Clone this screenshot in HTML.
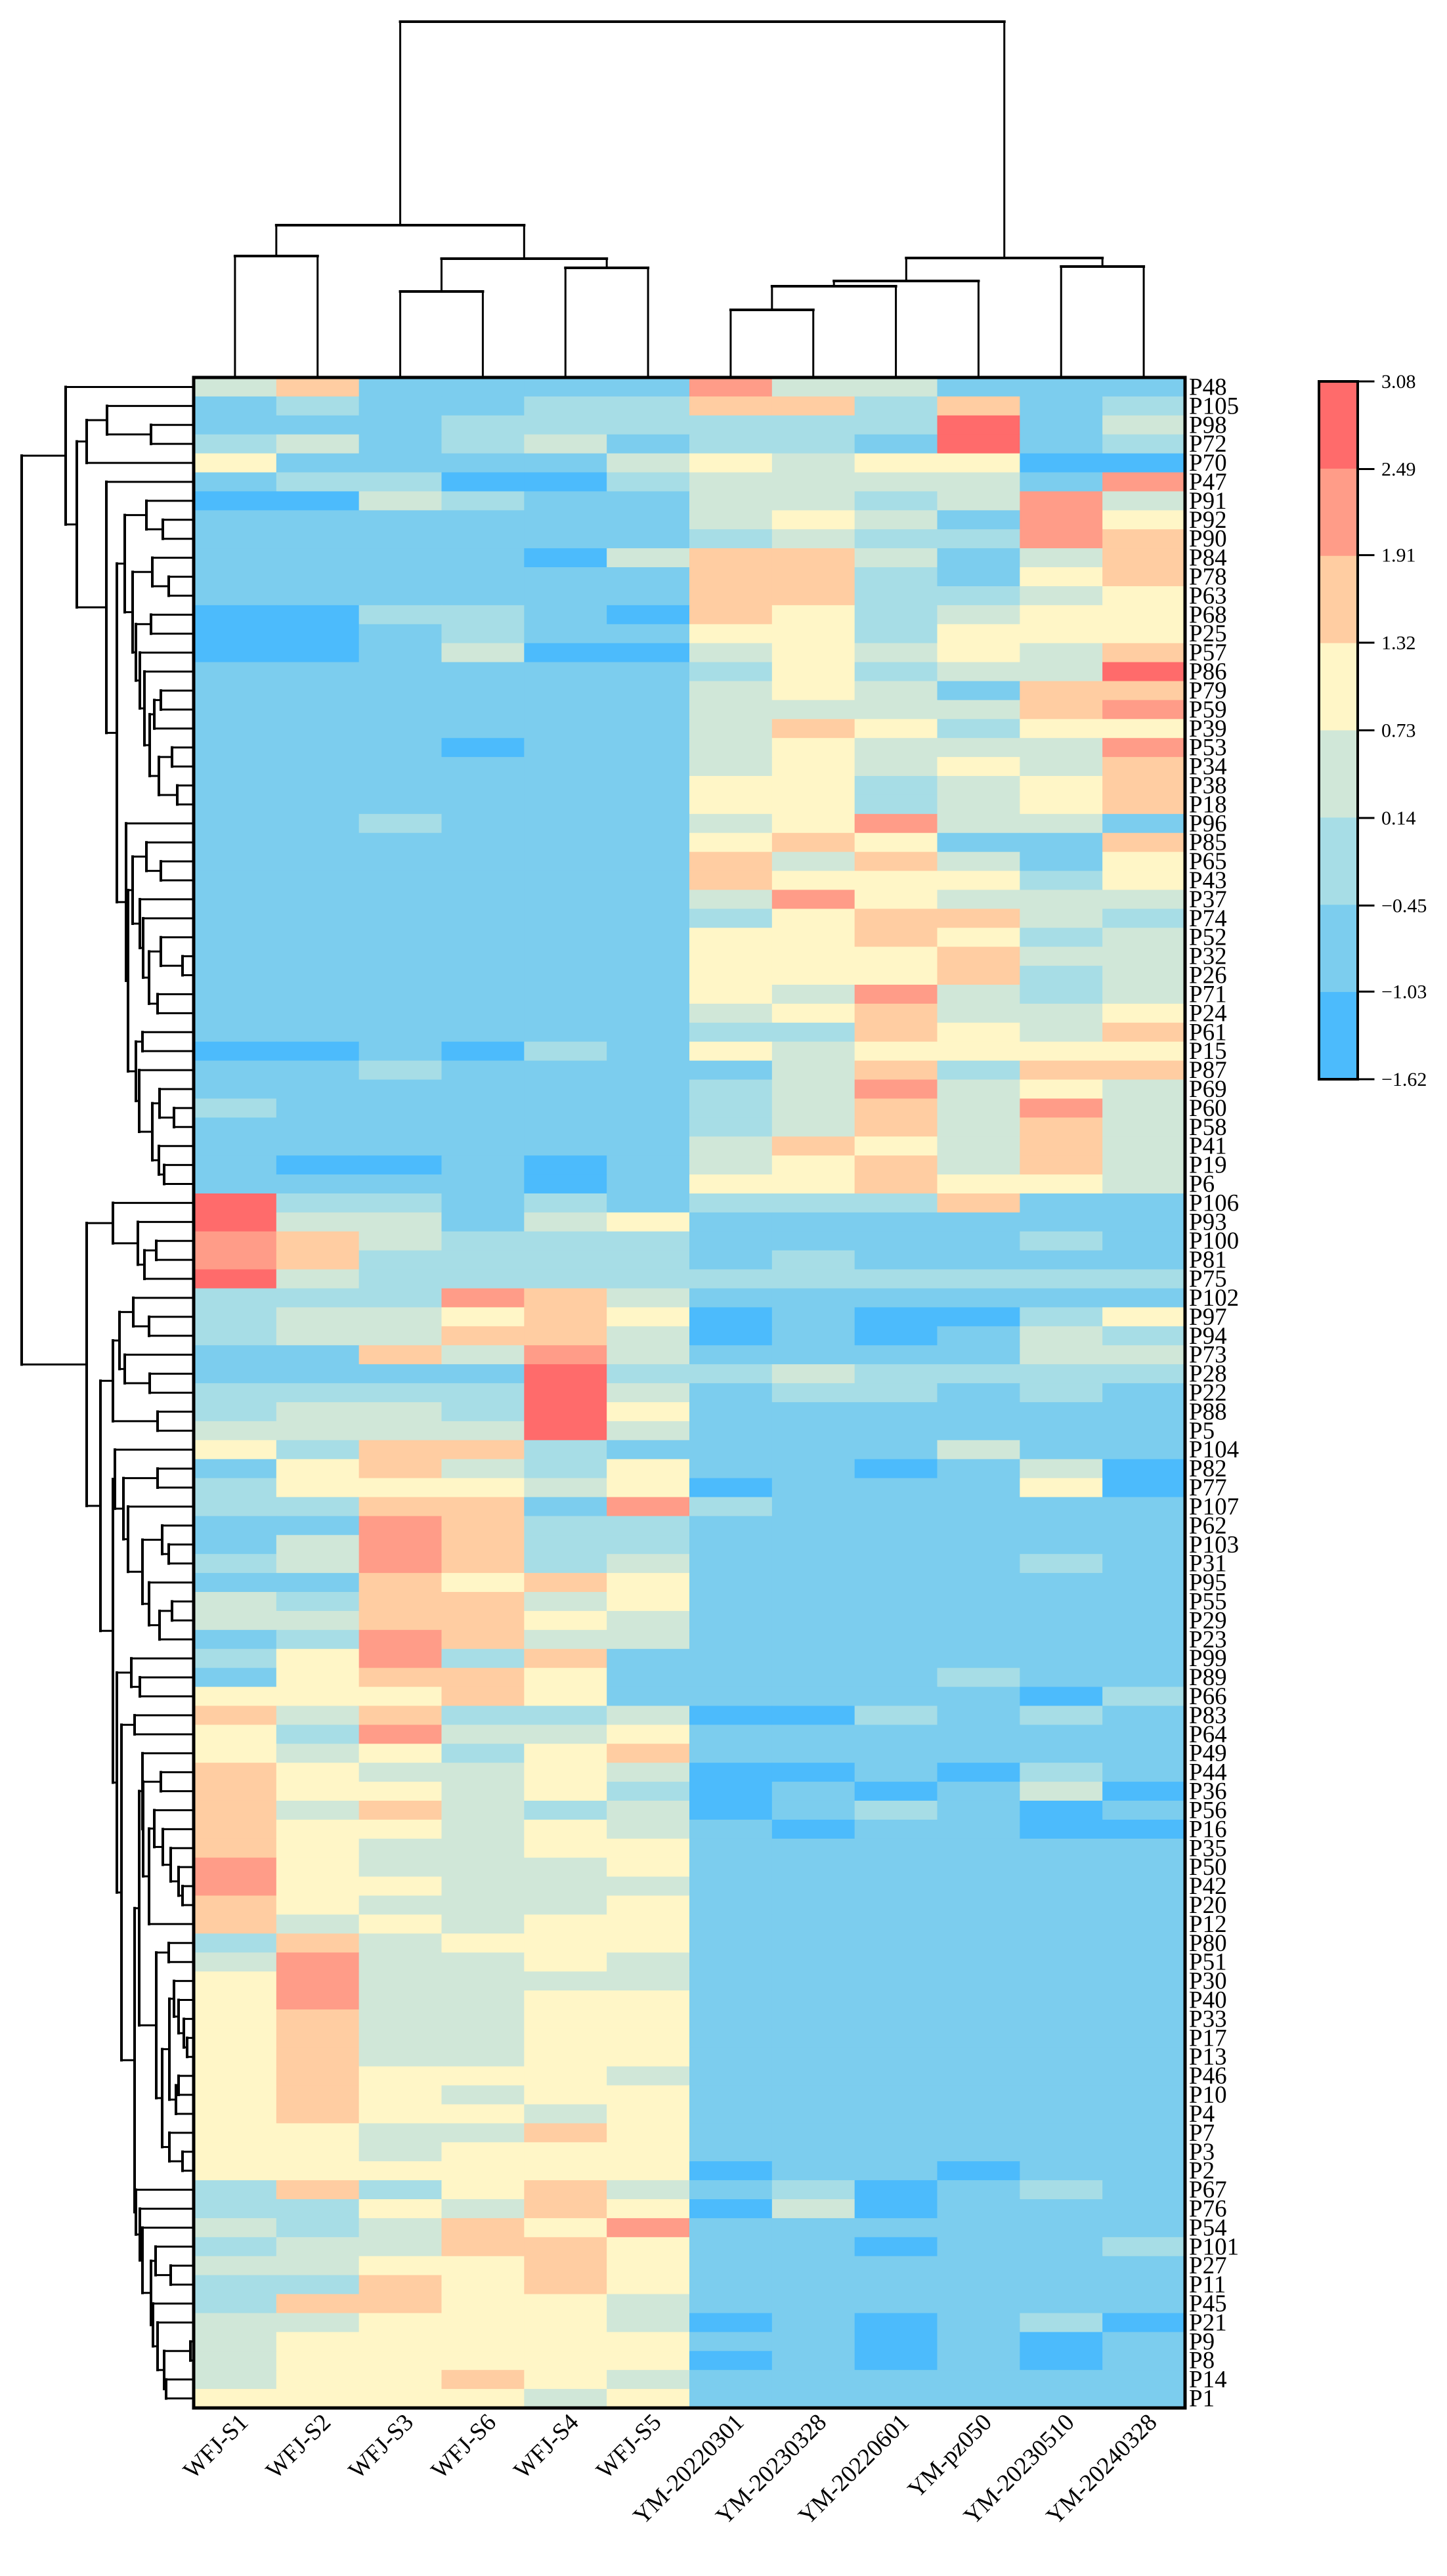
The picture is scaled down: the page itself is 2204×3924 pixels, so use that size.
<!DOCTYPE html>
<html><head><meta charset="utf-8"><style>
html,body{margin:0;padding:0;background:#fff;}
svg{display:block;}
text{font-family:"Liberation Serif",serif;fill:#000;}
</style></head>
<body>
<svg id="chart" width="2204" height="3924" viewBox="0 0 2204 3924" xmlns="http://www.w3.org/2000/svg">
<g id="col-dendro"></g>
<g id="row-dendro"></g>
<g id="cells"></g>
<rect x="295" y="575" width="1510" height="3093" fill="none" stroke="#000" stroke-width="5"/>
<g id="row-labels"></g>
<g id="col-labels"></g>
<g id="legend"></g>
</svg>
<script>
const columns = ["WFJ-S1","WFJ-S2","WFJ-S3","WFJ-S6","WFJ-S4","WFJ-S5","YM-20220301","YM-20230328","YM-20220601","YM-pz050","YM-20230510","YM-20240328"];
const rowsLabels = ["P48","P105","P98","P72","P70","P47","P91","P92","P90","P84","P78","P63","P68","P25","P57","P86","P79","P59","P39","P53","P34","P38","P18","P96","P85","P65","P43","P37","P74","P52","P32","P26","P71","P24","P61","P15","P87","P69","P60","P58","P41","P19","P6","P106","P93","P100","P81","P75","P102","P97","P94","P73","P28","P22","P88","P5","P104","P82","P77","P107","P62","P103","P31","P95","P55","P29","P23","P99","P89","P66","P83","P64","P49","P44","P36","P56","P16","P35","P50","P42","P20","P12","P80","P51","P30","P40","P33","P17","P13","P46","P10","P4","P7","P3","P2","P67","P76","P54","P101","P27","P11","P45","P21","P9","P8","P14","P1"];
const legendTicks = [3.08,2.49,1.91,1.32,0.73,0.14,-0.45,-1.03,-1.62];
const legendColors = ["#FF6B6B","#FF9C88","#FFCDA2","#FFF6C7","#D0E7D8","#A7DDE6","#7CCDEE","#4CBBFC"];
// cell values (z-scores, estimated per cell)
const values = [
[0.4,1.6,-0.7,-0.7,-0.7,-0.7,2.2,0.4,0.4,-0.7,-0.7,-0.7],
[-0.7,-0.2,-0.7,-0.7,-0.2,-0.2,1.6,1.6,-0.2,1.6,-0.7,-0.2],
[-0.7,-0.7,-0.7,-0.2,-0.2,-0.2,-0.2,-0.2,-0.2,2.8,-0.7,0.4],
[-0.2,0.4,-0.7,-0.2,0.4,-0.7,-0.2,-0.2,-0.7,2.8,-0.7,-0.2],
[1.0,-0.7,-0.7,-0.7,-0.7,0.4,1.0,0.4,1.0,1.0,-1.3,-1.3],
[-0.7,-0.2,-0.2,-1.3,-1.3,-0.2,0.4,0.4,0.4,0.4,-0.7,2.2],
[-1.3,-1.3,0.4,-0.2,-0.7,-0.7,0.4,0.4,-0.2,0.4,2.2,0.4],
[-0.7,-0.7,-0.7,-0.7,-0.7,-0.7,0.4,1.0,0.4,-0.7,2.2,1.0],
[-0.7,-0.7,-0.7,-0.7,-0.7,-0.7,-0.2,0.4,-0.2,-0.2,2.2,1.6],
[-0.7,-0.7,-0.7,-0.7,-1.3,0.4,1.6,1.6,0.4,-0.7,0.4,1.6],
[-0.7,-0.7,-0.7,-0.7,-0.7,-0.7,1.6,1.6,-0.2,-0.7,1.0,1.6],
[-0.7,-0.7,-0.7,-0.7,-0.7,-0.7,1.6,1.6,-0.2,-0.2,0.4,1.0],
[-1.3,-1.3,-0.2,-0.2,-0.7,-1.3,1.6,1.0,-0.2,0.4,1.0,1.0],
[-1.3,-1.3,-0.7,-0.2,-0.7,-0.7,1.0,1.0,-0.2,1.0,1.0,1.0],
[-1.3,-1.3,-0.7,0.4,-1.3,-1.3,0.4,1.0,0.4,1.0,0.4,1.6],
[-0.7,-0.7,-0.7,-0.7,-0.7,-0.7,-0.2,1.0,-0.2,0.4,0.4,2.8],
[-0.7,-0.7,-0.7,-0.7,-0.7,-0.7,0.4,1.0,0.4,-0.7,1.6,1.6],
[-0.7,-0.7,-0.7,-0.7,-0.7,-0.7,0.4,0.4,0.4,0.4,1.6,2.2],
[-0.7,-0.7,-0.7,-0.7,-0.7,-0.7,0.4,1.6,1.0,-0.2,1.0,1.0],
[-0.7,-0.7,-0.7,-1.3,-0.7,-0.7,0.4,1.0,0.4,0.4,0.4,2.2],
[-0.7,-0.7,-0.7,-0.7,-0.7,-0.7,0.4,1.0,0.4,1.0,0.4,1.6],
[-0.7,-0.7,-0.7,-0.7,-0.7,-0.7,1.0,1.0,-0.2,0.4,1.0,1.6],
[-0.7,-0.7,-0.7,-0.7,-0.7,-0.7,1.0,1.0,-0.2,0.4,1.0,1.6],
[-0.7,-0.7,-0.2,-0.7,-0.7,-0.7,0.4,1.0,2.2,0.4,0.4,-0.7],
[-0.7,-0.7,-0.7,-0.7,-0.7,-0.7,1.0,1.6,1.0,-0.7,-0.7,1.6],
[-0.7,-0.7,-0.7,-0.7,-0.7,-0.7,1.6,0.4,1.6,0.4,-0.7,1.0],
[-0.7,-0.7,-0.7,-0.7,-0.7,-0.7,1.6,1.0,1.0,1.0,-0.2,1.0],
[-0.7,-0.7,-0.7,-0.7,-0.7,-0.7,0.4,2.2,1.0,0.4,0.4,0.4],
[-0.7,-0.7,-0.7,-0.7,-0.7,-0.7,-0.2,1.0,1.6,1.6,0.4,-0.2],
[-0.7,-0.7,-0.7,-0.7,-0.7,-0.7,1.0,1.0,1.6,1.0,-0.2,0.4],
[-0.7,-0.7,-0.7,-0.7,-0.7,-0.7,1.0,1.0,1.0,1.6,0.4,0.4],
[-0.7,-0.7,-0.7,-0.7,-0.7,-0.7,1.0,1.0,1.0,1.6,-0.2,0.4],
[-0.7,-0.7,-0.7,-0.7,-0.7,-0.7,1.0,0.4,2.2,0.4,-0.2,0.4],
[-0.7,-0.7,-0.7,-0.7,-0.7,-0.7,0.4,1.0,1.6,0.4,0.4,1.0],
[-0.7,-0.7,-0.7,-0.7,-0.7,-0.7,-0.2,-0.2,1.6,1.0,0.4,1.6],
[-1.3,-1.3,-0.7,-1.3,-0.2,-0.7,1.0,0.4,1.0,1.0,1.0,1.0],
[-0.7,-0.7,-0.2,-0.7,-0.7,-0.7,-0.7,0.4,1.6,-0.2,1.6,1.6],
[-0.7,-0.7,-0.7,-0.7,-0.7,-0.7,-0.2,0.4,2.2,0.4,1.0,0.4],
[-0.2,-0.7,-0.7,-0.7,-0.7,-0.7,-0.2,0.4,1.6,0.4,2.2,0.4],
[-0.7,-0.7,-0.7,-0.7,-0.7,-0.7,-0.2,0.4,1.6,0.4,1.6,0.4],
[-0.7,-0.7,-0.7,-0.7,-0.7,-0.7,0.4,1.6,1.0,0.4,1.6,0.4],
[-0.7,-1.3,-1.3,-0.7,-1.3,-0.7,0.4,1.0,1.6,0.4,1.6,0.4],
[-0.7,-0.7,-0.7,-0.7,-1.3,-0.7,1.0,1.0,1.6,1.0,1.0,0.4],
[2.8,-0.2,-0.2,-0.7,-0.2,-0.7,-0.2,-0.2,-0.2,1.6,-0.7,-0.7],
[2.8,0.4,0.4,-0.7,0.4,1.0,-0.7,-0.7,-0.7,-0.7,-0.7,-0.7],
[2.2,1.6,0.4,-0.2,-0.2,-0.2,-0.7,-0.7,-0.7,-0.7,-0.2,-0.7],
[2.2,1.6,-0.2,-0.2,-0.2,-0.2,-0.7,-0.2,-0.7,-0.7,-0.7,-0.7],
[2.8,0.4,-0.2,-0.2,-0.2,-0.2,-0.2,-0.2,-0.2,-0.2,-0.2,-0.2],
[-0.2,-0.2,-0.2,2.2,1.6,0.4,-0.7,-0.7,-0.7,-0.7,-0.7,-0.7],
[-0.2,0.4,0.4,1.0,1.6,1.0,-1.3,-0.7,-1.3,-1.3,-0.2,1.0],
[-0.2,0.4,0.4,1.6,1.6,0.4,-1.3,-0.7,-1.3,-0.7,0.4,-0.2],
[-0.7,-0.7,1.6,0.4,2.2,0.4,-0.7,-0.7,-0.7,-0.7,0.4,0.4],
[-0.7,-0.7,-0.7,-0.7,2.8,-0.2,-0.2,0.4,-0.2,-0.2,-0.2,-0.2],
[-0.2,-0.2,-0.2,-0.2,2.8,0.4,-0.7,-0.2,-0.2,-0.7,-0.2,-0.7],
[-0.2,0.4,0.4,-0.2,2.8,1.0,-0.7,-0.7,-0.7,-0.7,-0.7,-0.7],
[0.4,0.4,0.4,0.4,2.8,0.4,-0.7,-0.7,-0.7,-0.7,-0.7,-0.7],
[1.0,-0.2,1.6,1.6,-0.2,-0.7,-0.7,-0.7,-0.7,0.4,-0.7,-0.7],
[-0.7,1.0,1.6,0.4,-0.2,1.0,-0.7,-0.7,-1.3,-0.7,0.4,-1.3],
[-0.2,1.0,1.0,1.0,0.4,1.0,-1.3,-0.7,-0.7,-0.7,1.0,-1.3],
[-0.2,-0.2,1.6,1.6,-0.7,2.2,-0.2,-0.7,-0.7,-0.7,-0.7,-0.7],
[-0.7,-0.7,2.2,1.6,-0.2,-0.2,-0.7,-0.7,-0.7,-0.7,-0.7,-0.7],
[-0.7,0.4,2.2,1.6,-0.2,-0.2,-0.7,-0.7,-0.7,-0.7,-0.7,-0.7],
[-0.2,0.4,2.2,1.6,-0.2,0.4,-0.7,-0.7,-0.7,-0.7,-0.2,-0.7],
[-0.7,-0.7,1.6,1.0,1.6,1.0,-0.7,-0.7,-0.7,-0.7,-0.7,-0.7],
[0.4,-0.2,1.6,1.6,0.4,1.0,-0.7,-0.7,-0.7,-0.7,-0.7,-0.7],
[0.4,0.4,1.6,1.6,1.0,0.4,-0.7,-0.7,-0.7,-0.7,-0.7,-0.7],
[-0.7,-0.2,2.2,1.6,0.4,0.4,-0.7,-0.7,-0.7,-0.7,-0.7,-0.7],
[-0.2,1.0,2.2,-0.2,1.6,-0.7,-0.7,-0.7,-0.7,-0.7,-0.7,-0.7],
[-0.7,1.0,1.6,1.6,1.0,-0.7,-0.7,-0.7,-0.7,-0.2,-0.7,-0.7],
[1.0,1.0,1.0,1.6,1.0,-0.7,-0.7,-0.7,-0.7,-0.7,-1.3,-0.2],
[1.6,0.4,1.6,-0.2,-0.2,0.4,-1.3,-1.3,-0.2,-0.7,-0.2,-0.7],
[1.0,-0.2,2.2,0.4,0.4,1.0,-0.7,-0.7,-0.7,-0.7,-0.7,-0.7],
[1.0,0.4,1.0,-0.2,1.0,1.6,-0.7,-0.7,-0.7,-0.7,-0.7,-0.7],
[1.6,1.0,0.4,0.4,1.0,0.4,-1.3,-1.3,-0.7,-1.3,-0.2,-0.7],
[1.6,1.0,1.0,0.4,1.0,-0.2,-1.3,-0.7,-1.3,-0.7,0.4,-1.3],
[1.6,0.4,1.6,0.4,-0.2,0.4,-1.3,-0.7,-0.2,-0.7,-1.3,-0.7],
[1.6,1.0,1.0,0.4,1.0,0.4,-0.7,-1.3,-0.7,-0.7,-1.3,-1.3],
[1.6,1.0,0.4,0.4,1.0,1.0,-0.7,-0.7,-0.7,-0.7,-0.7,-0.7],
[2.2,1.0,0.4,0.4,0.4,1.0,-0.7,-0.7,-0.7,-0.7,-0.7,-0.7],
[2.2,1.0,1.0,0.4,0.4,0.4,-0.7,-0.7,-0.7,-0.7,-0.7,-0.7],
[1.6,1.0,0.4,0.4,0.4,1.0,-0.7,-0.7,-0.7,-0.7,-0.7,-0.7],
[1.6,0.4,1.0,0.4,1.0,1.0,-0.7,-0.7,-0.7,-0.7,-0.7,-0.7],
[-0.2,1.6,0.4,1.0,1.0,1.0,-0.7,-0.7,-0.7,-0.7,-0.7,-0.7],
[0.4,2.2,0.4,0.4,1.0,0.4,-0.7,-0.7,-0.7,-0.7,-0.7,-0.7],
[1.0,2.2,0.4,0.4,0.4,0.4,-0.7,-0.7,-0.7,-0.7,-0.7,-0.7],
[1.0,2.2,0.4,0.4,1.0,1.0,-0.7,-0.7,-0.7,-0.7,-0.7,-0.7],
[1.0,1.6,0.4,0.4,1.0,1.0,-0.7,-0.7,-0.7,-0.7,-0.7,-0.7],
[1.0,1.6,0.4,0.4,1.0,1.0,-0.7,-0.7,-0.7,-0.7,-0.7,-0.7],
[1.0,1.6,0.4,0.4,1.0,1.0,-0.7,-0.7,-0.7,-0.7,-0.7,-0.7],
[1.0,1.6,1.0,1.0,1.0,0.4,-0.7,-0.7,-0.7,-0.7,-0.7,-0.7],
[1.0,1.6,1.0,0.4,1.0,1.0,-0.7,-0.7,-0.7,-0.7,-0.7,-0.7],
[1.0,1.6,1.0,1.0,0.4,1.0,-0.7,-0.7,-0.7,-0.7,-0.7,-0.7],
[1.0,1.0,0.4,0.4,1.6,1.0,-0.7,-0.7,-0.7,-0.7,-0.7,-0.7],
[1.0,1.0,0.4,1.0,1.0,1.0,-0.7,-0.7,-0.7,-0.7,-0.7,-0.7],
[1.0,1.0,1.0,1.0,1.0,1.0,-1.3,-0.7,-0.7,-1.3,-0.7,-0.7],
[-0.2,1.6,-0.2,1.0,1.6,0.4,-0.7,-0.2,-1.3,-0.7,-0.2,-0.7],
[-0.2,-0.2,1.0,0.4,1.6,1.0,-1.3,0.4,-1.3,-0.7,-0.7,-0.7],
[0.4,-0.2,0.4,1.6,1.0,2.2,-0.7,-0.7,-0.7,-0.7,-0.7,-0.7],
[-0.2,0.4,0.4,1.6,1.6,1.0,-0.7,-0.7,-1.3,-0.7,-0.7,-0.2],
[0.4,0.4,1.0,1.0,1.6,1.0,-0.7,-0.7,-0.7,-0.7,-0.7,-0.7],
[-0.2,-0.2,1.6,1.0,1.6,1.0,-0.7,-0.7,-0.7,-0.7,-0.7,-0.7],
[-0.2,1.6,1.6,1.0,1.0,0.4,-0.7,-0.7,-0.7,-0.7,-0.7,-0.7],
[0.4,0.4,1.0,1.0,1.0,0.4,-1.3,-0.7,-1.3,-0.7,-0.2,-1.3],
[0.4,1.0,1.0,1.0,1.0,1.0,-0.7,-0.7,-1.3,-0.7,-1.3,-0.7],
[0.4,1.0,1.0,1.0,1.0,1.0,-1.3,-0.7,-1.3,-0.7,-1.3,-0.7],
[0.4,1.0,1.0,1.6,1.0,0.4,-0.7,-0.7,-0.7,-0.7,-0.7,-0.7],
[1.0,1.0,1.0,1.0,0.4,1.0,-0.7,-0.7,-0.7,-0.7,-0.7,-0.7]
];
// column dendrogram: [mergeY, left, right]; leaves = column index
const colTree = [33,[343,[390,0,1],[394,[444,2,3],[408,4,5]]],[393,[428,[436,[472,6,7],8],9],[406,10,11]]];
// row dendrogram: [mergeX, top, bottom]; leaves = row index
const rowTree = [33,
 [100,0,[117,[132,[163,1,[230,2,3]],4],[162,5,[178,
   [190,[223,6,[248,7,8]],[202,[232,9,[257,10,11]],[207,[230,12,13],[213,14,[220,15,[228,[235,[245,16,17],18],[242,[262,19,20],[270,21,22]]]]]]]],
   [192,23,[195,
     [202,[223,24,[245,25,26]],[213,27,[218,28,[227,[245,29,[278,30,31]],[240,32,33]]]]],
     [207,[217,34,35],[212,36,[232,[243,37,[265,38,39]],[242,40,[250,41,42]]]]]]]]]]],
 [132,[172,43,[210,44,[220,[238,45,46],47]]],
   [153,[172,[182,[203,48,[227,49,50]],[190,51,[228,52,53]]],[240,54,55]],
     [172,[175,56,[188,[240,57,58],[195,59,[217,[247,60,[257,61,62]],[227,63,[243,[262,64,65],66]]]]]],
       [178,[200,67,[213,68,69]],[185,[205,70,71],[205,
         [212,[217,72,[218,[245,73,74],[227,[235,75,[248,76,[260,77,[272,78,[278,79,80]]]]],81]]],
              [238,[257,82,83],[247,[258,[265,84,[272,85,[280,86,[285,87,88]]]],[268,[272,89,90],91]],[258,92,[278,93,94]]]]],
         [207,95,[213,96,[217,97,[230,[237,98,[260,99,100]],[233,101,[240,102,[250,[290,103,104],[253,105,106]]]]]]]]]]]]]]];

const NS = "http://www.w3.org/2000/svg";
const X0 = 295, X1 = 1805, Y0 = 575, Y1 = 3668;
const cw = (X1 - X0) / columns.length, rh = (Y1 - Y0) / rowsLabels.length;
const vmin = legendTicks[legendTicks.length-1], vmax = legendTicks[0];
function xScale(c){ return X0 + c*cw; }
function yScale(r){ return Y0 + r*rh; }
function colorOf(v){
  const nb = legendColors.length;
  let k = Math.floor((vmax - v) / (vmax - vmin) * nb);
  k = Math.max(0, Math.min(nb-1, k));
  return legendColors[k];
}
function el(tag, attrs, parent){
  const e = document.createElementNS(NS, tag);
  for (const k in attrs) e.setAttribute(k, attrs[k]);
  parent.appendChild(e); return e;
}
// cells
const gc = document.getElementById('cells');
values.forEach((row, r) => row.forEach((v, c) => {
  const e = el('rect', {x: xScale(c), y: yScale(r), width: cw+0.6, height: rh+0.6, fill: colorOf(v)}, gc);
  
  
}));
// row labels
const gr = document.getElementById('row-labels');
rowsLabels.forEach((lab, r) => {
  const t = el('text', {x: 1811, y: yScale(r) + rh/2 + 12, 'font-size': 37, transform: ''}, gr);
  t.textContent = lab;
  
  
});
// column labels
const gl = document.getElementById('col-labels');
columns.forEach((lab, c) => {
  const cx = xScale(c) + cw/2 + 22, cy = 3692;
  const t = el('text', {x: cx, y: cy, 'font-size': 37, 'text-anchor': 'end', transform: 'rotate(-45 ' + cx + ' ' + cy + ')'}, gl);
  t.textContent = lab;
  
  
});
// column dendrogram
const gcd = document.getElementById('col-dendro');
function line(g, x1, y1, x2, y2, w){
  const l = el('line', {x1, y1, x2, y2, stroke: '#000', 'stroke-width': w, 'stroke-linecap': 'square'}, g);
  
  
}
function drawCol(node){
  if (typeof node === 'number') return {x: xScale(node) + cw/2, y: Y0};
  const a = drawCol(node[1]), b = drawCol(node[2]), h = node[0];
  line(gcd, a.x, h, b.x, h, 4);
  line(gcd, a.x, h, a.x, a.y, 3);
  line(gcd, b.x, h, b.x, b.y, 3);
  return {x: (a.x + b.x)/2, y: h};
}
drawCol(colTree);
const grd = document.getElementById('row-dendro');
function drawRow(node){
  if (typeof node === 'number') return {x: X0, y: yScale(node) + rh/2};
  const a = drawRow(node[1]), b = drawRow(node[2]), h = node[0];
  line(grd, h, a.y, h, b.y, 4);
  line(grd, h, a.y, a.x, a.y, 3);
  line(grd, h, b.y, b.x, b.y, 3);
  return {x: h, y: (a.y + b.y)/2};
}
drawRow(rowTree);
// legend
const gleg = document.getElementById('legend');
const LX0 = 2009, LX1 = 2068, LY0 = 581, LY1 = 1644;
const bh = (LY1 - LY0) / legendColors.length;
legendColors.forEach((col, i) => {
  const e = el('rect', {x: LX0, y: LY0 + i*bh, width: LX1-LX0, height: bh+0.5, fill: col}, gleg);
  
  
});
const fr = el('rect', {x: LX0, y: LY0, width: LX1-LX0, height: LY1-LY0, fill: 'none', stroke: '#000', 'stroke-width': 4}, gleg);


legendTicks.forEach((v, i) => {
  const y = LY0 + (vmax - v) / (vmax - vmin) * (LY1 - LY0);
  line(gleg, LX1, y, 2092, y, 3);
  const t = el('text', {x: 2104, y: y + 10, 'font-size': 30, fill: '#333'}, gleg);
  t.textContent = v.toFixed(2).replace('-', '\u2212');
  
  
});
</script>
</body></html>
